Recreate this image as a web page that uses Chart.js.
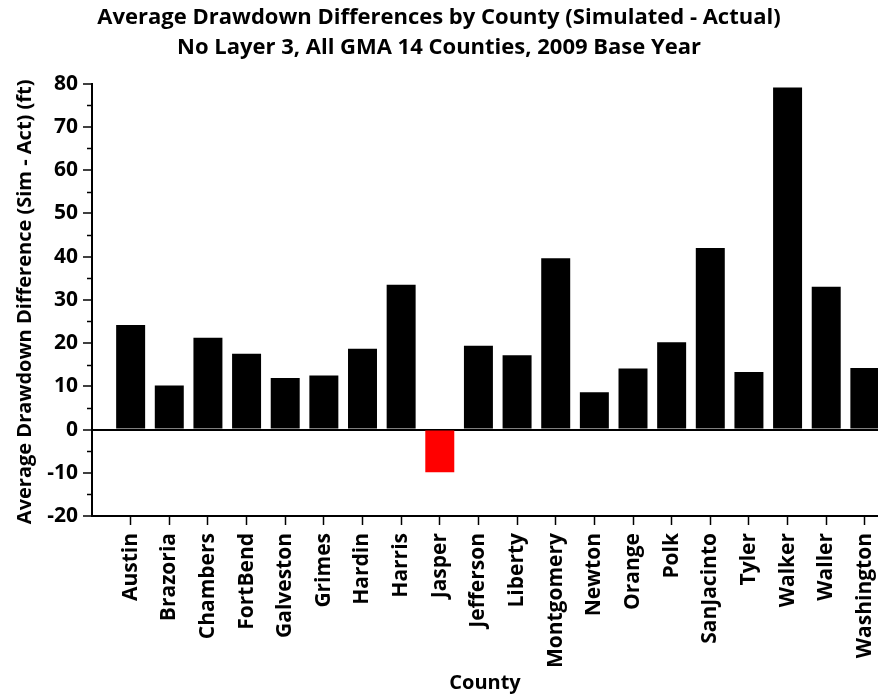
<!DOCTYPE html>
<html>
<head>
<meta charset="utf-8">
<script src="https://cdn.jsdelivr.net/npm/chart.js@4.4.0/dist/chart.umd.min.js"></script>
<style>
  html, body { margin: 0; padding: 0; background: #fff; overflow: hidden; }
  #wrap { width: 878px; height: 698px; }
</style>
</head>
<body>
<div id="wrap"><canvas id="chart" width="878" height="698"></canvas></div>
<script>
// Condados GMA 14
const counties = ['Austin', 'Brazoria', 'Chambers', 'FortBend', 'Galveston', 'Grimes', 'Hardin', 'Harris', 'Jasper', 'Jefferson',
    'Liberty', 'Montgomery', 'Newton', 'Orange', 'Polk', 'SanJacinto', 'Tyler', 'Walker', 'Waller', 'Washington'];

// Diferencia promedio de abatimiento (Sim - Act), ft
const drawdownDiff = [24.2, 10.2, 21.2, 17.5, 11.9, 12.5, 18.7, 33.5, -9.9, 19.4,
    17.2, 39.6, 8.6, 14.1, 20.2, 42.0, 13.3, 79.1, 33.0, 14.2];

const yTicks = [-20, -10, 0, 10, 20, 30, 40, 50, 60, 70, 80];
const yMinorTicks = [-15, -5, 5, 15, 25, 35, 45, 55, 65, 75];

const titleLines = ['Average Drawdown Differences by County (Simulated - Actual)',
    'No Layer 3, All GMA 14 Counties, 2009 Base Year'];
const yTitle = 'Average Drawdown Difference (Sim - Act) (ft)';

const FONT = '"Open Sans", "DejaVu Sans", sans-serif';

// ticks menores del eje y + título del eje y (más largo que el área, Chart.js lo comprime)
const yExtras = {
    id: 'yExtras',
    afterDraw(chart) {
        const y = chart.scales.y;
        const ctx = chart.ctx;
        ctx.save();
        ctx.strokeStyle = '#000';
        ctx.lineWidth = 1.5;
        yMinorTicks.forEach(v => {
            const py = Math.round(y.getPixelForValue(v)) + 0.5;
            ctx.beginPath();
            ctx.moveTo(y.right - 5, py);
            ctx.lineTo(y.right, py);
            ctx.stroke();
        });
        const mid = (y.getPixelForValue(80) + y.getPixelForValue(-20)) / 2 + 2;
        ctx.translate(25, mid);
        ctx.rotate(-Math.PI / 2);
        ctx.fillStyle = '#000';
        ctx.font = 'bold 20px ' + FONT;
        ctx.textAlign = 'center';
        ctx.textBaseline = 'middle';
        ctx.fillText(yTitle, 0, 0);
        ctx.restore();
    }
};

const ctx = document.getElementById('chart').getContext('2d');
new Chart(ctx, {
    type: 'bar',
    data: {
        datasets: [{
            data: counties.map((c, i) => ({ x: i + 1, y: drawdownDiff[i] })),
            backgroundColor: c => (c.raw && c.raw.y < 0) ? '#ff0000' : '#000000',
            borderWidth: 0,
            barPercentage: 0.75,
            categoryPercentage: 1
        }]
    },
    options: {
        responsive: false,
        animation: false,
        layout: { padding: { left: 0, right: 0, top: 0, bottom: 0 } },
        plugins: {
            legend: { display: false },
            tooltip: { enabled: false },
            title: {
                display: true,
                text: titleLines,
                color: '#000',
                font: { family: FONT, size: 22, weight: 'bold', lineHeight: 1.4 },
                padding: { top: 2, bottom: 20 }
            }
        },
        scales: {
            x: {
                type: 'linear',
                offset: false,
                min: 0,
                max: 20.34,
                afterBuildTicks: s => { s.ticks = counties.map((c, i) => ({ value: i + 1 })); },
                afterFit: s => { s.height = 182; s.paddingRight = 0; s.paddingLeft = 0; },
                grid: { display: true, offset: false, drawOnChartArea: false, drawTicks: true, tickLength: 9, tickColor: '#000', tickWidth: 1.5 },
                border: { display: true, color: '#000', width: 2 },
                ticks: {
                    autoSkip: false,
                    maxRotation: 90,
                    minRotation: 90,
                    padding: 8,
                    color: '#000',
                    font: { family: FONT, size: 21, weight: 'bold' },
                    callback: v => counties[v - 1] || ''
                },
                title: {
                    display: true,
                    text: 'County',
                    color: '#000',
                    font: { family: FONT, size: 20, weight: 'bold' },
                    padding: { top: 0, bottom: 3 }
                }
            },
            y: {
                min: -20,
                max: 80,
                afterBuildTicks: s => { s.ticks = yTicks.map(v => ({ value: v })); },
                afterFit: s => { s.width = 92; },
                grid: {
                    drawOnChartArea: true,
                    drawTicks: true,
                    tickLength: 9,
                    tickColor: '#000',
                    tickWidth: 1.5,
                    color: c => c.tick && c.tick.value === 0 ? '#000' : 'rgba(0,0,0,0)',
                    lineWidth: c => c.tick && c.tick.value === 0 ? 2 : 0
                },
                border: { display: true, color: '#000', width: 2 },
                ticks: {
                    padding: 5,
                    color: '#000',
                    font: { family: FONT, size: 21, weight: 'bold' }
                },
                title: { display: false }
            }
        }
    },
    plugins: [yExtras]
});
</script>
</body>
</html>
